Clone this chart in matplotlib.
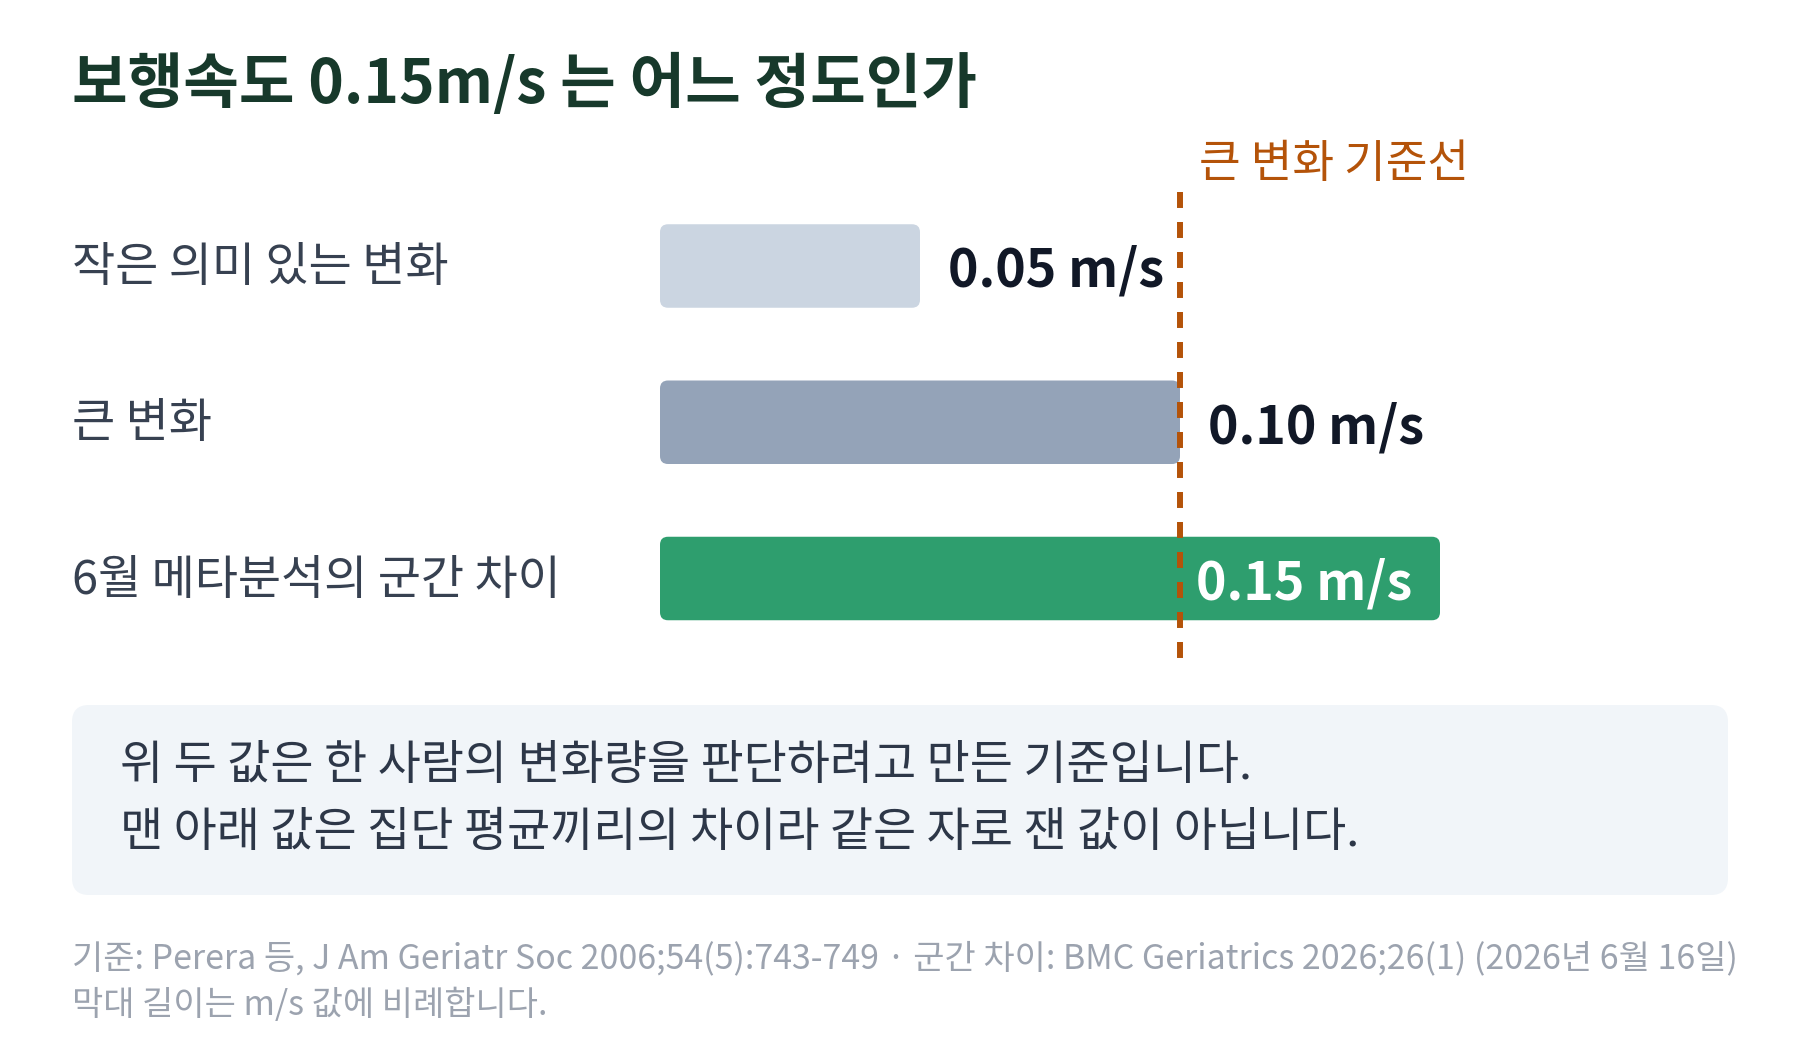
import matplotlib
matplotlib.use('Agg')
import matplotlib.pyplot as plt
from matplotlib.patches import FancyBboxPatch
from matplotlib import transforms

plt.rcParams['font.family'] = ['Noto Sans CJK KR', 'DejaVu Sans']
plt.rcParams['lines.scale_dashes'] = False

# ---------------- data ----------------
title = "보행속도 0.15m/s 는 어느 정도인가"
categories = ["작은 의미 있는 변화", "큰 변화", "6월 메타분석의 군간 차이"]
values = [0.05, 0.10, 0.15]
value_labels = ["0.05 m/s", "0.10 m/s", "0.15 m/s"]
bar_colors = ["#CBD5E1", "#94A3B8", "#2E9E6E"]
threshold = 0.10
threshold_label = "큰 변화 기준선"
note_lines = [
    "위 두 값은 한 사람의 변화량을 판단하려고 만든 기준입니다.",
    "맨 아래 값은 집단 평균끼리의 차이라 같은 자로 잰 값이 아닙니다.",
]
footer_lines = [
    "기준: Perera 등, J Am Geriatr Soc 2006;54(5):743-749 · 군간 차이: BMC Geriatrics 2026;26(1) (2026년 6월 16일)",
    "막대 길이는 m/s 값에 비례합니다.",
]

# ---------------- layout ----------------
W, H = 1800, 1040
fig = plt.figure(figsize=(18, 10.4), dpi=100)
fig.patch.set_facecolor('white')
bg = fig.add_axes([0, 0, 1, 1])
bg.set_xlim(0, W)
bg.set_ylim(H, 0)
bg.axis('off')

# title
bg.text(72, 103, title, fontsize=43.5, fontweight='bold', color='#17392B',
        ha='left', va='baseline')

# bar axes
ppu = 5200.0          # pixels per m/s
ax_left, ax_right = 660, 1800
ax_top, ax_bot = 150, 700
row0, row_step = 266.0, 156.25
ax = fig.add_axes([ax_left / W, 1 - ax_bot / H, (ax_right - ax_left) / W,
                   (ax_bot - ax_top) / H])
ax.set_xlim(0, (ax_right - ax_left) / ppu)
ax.set_ylim((ax_bot - row0) / row_step, (ax_top - row0) / row_step)
ax.axis('off')
ax.patch.set_alpha(0)

bar_h = 83.5 / row_step
aspect = ppu / row_step
for i, (v, c) in enumerate(zip(values, bar_colors)):
    p = FancyBboxPatch((0, i - bar_h / 2), v, bar_h,
                       boxstyle=f"round,pad=0,rounding_size={8 / ppu}",
                       mutation_aspect=aspect, fc=c, ec='none', zorder=2)
    ax.add_patch(p)

vmax = max(values)
for i, (v, lab) in enumerate(zip(values, value_labels)):
    if v == vmax:
        ax.text(v - 28 / ppu, i + 21 / row_step, lab, ha='right', va='baseline',
                fontsize=37.4, fontweight='bold', color='white', zorder=4)
    else:
        ax.text(v + 28 / ppu, i + 21 / row_step, lab, ha='left', va='baseline',
                fontsize=37.4, fontweight='bold', color='#111827', zorder=4)

# threshold line
ax.plot([threshold, threshold], [(192 - row0) / row_step, (659 - row0) / row_step],
        color='#B45309', lw=4.3, dashes=(11.5, 10.1), dash_capstyle='butt',
        zorder=3)
ax.text(threshold + 19 / ppu, (177 - row0) / row_step, threshold_label,
        ha='left', va='baseline', fontsize=32.6, color='#B45309')

# category labels
blend = transforms.blended_transform_factory(bg.transData, ax.transData)
for i, cat in enumerate(categories):
    ax.text(72, i + 15 / row_step, cat, transform=blend, ha='left',
            va='baseline', fontsize=33.8, color='#374151')

# note box
box = FancyBboxPatch((72, 705), 1656, 190,
                     boxstyle="round,pad=0,rounding_size=17",
                     fc='#F1F5F9', ec='none')
bg.add_patch(box)
for j, line in enumerate(note_lines):
    bg.text(120, 779 + j * 67, line, ha='left', va='baseline', fontsize=33.8,
            color='#2D3748')

# footer
for j, line in enumerate(footer_lines):
    bg.text(72, 968 + j * 47, line, ha='left', va='baseline', fontsize=24.45,
            color='#9CA3AF')

fig.savefig('out.png', dpi=100, facecolor='white')
